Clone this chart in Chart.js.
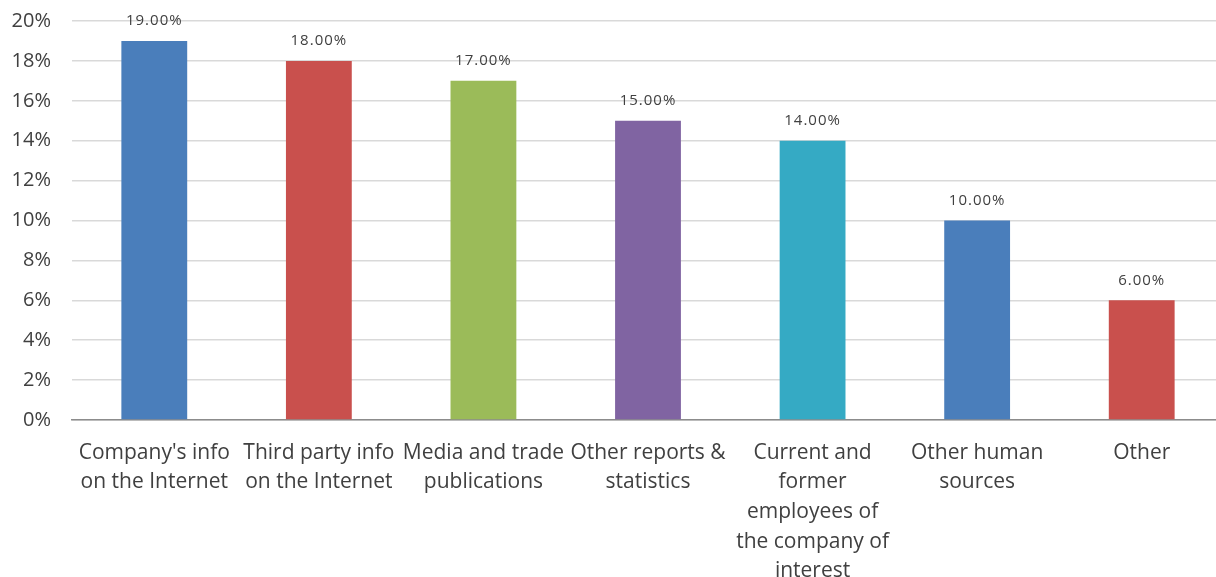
<!DOCTYPE html>
<html>
<head>
<meta charset="utf-8">
<script src="https://cdn.jsdelivr.net/npm/chart.js@4.4.1/dist/chart.umd.min.js"></script>
<style>
  html, body { margin: 0; padding: 0; background: #ffffff; overflow: hidden; }
  #wrap { position: relative; top: -12px; width: 1224px; height: 589px; }
</style>
</head>
<body>
<div id="wrap"><canvas id="chart"></canvas></div>
<script>
// Sources of information, share of respondents (%)
const categories = [
  ["Company's info", "on the Internet"],
  ["Third party info", "on the Internet"],
  ["Media and trade", "publications"],
  ["Other reports &", "statistics"],
  ["Current and", "former", "employees of", "the company of", "interest"],
  ["Other human", "sources"],
  ["Other"]
];
const shares = [19, 18, 17, 15, 14, 10, 6];
const barColors = ["#4A7EBB", "#C9504D", "#9BBB59", "#8064A2", "#35AAC4", "#4A7EBB", "#C9504D"];
const yTicks = [0, 2, 4, 6, 8, 10, 12, 14, 16, 18, 20];

const FONT = "'Open Sans', 'DejaVu Sans', sans-serif";
const TEXT = "#404040";

// Value labels drawn above each bar
const valueLabels = {
  id: 'valueLabels',
  afterDatasetsDraw(chart) {
    const ctx = chart.ctx;
    const meta = chart.getDatasetMeta(0);
    ctx.save();
    ctx.font = "15px " + FONT;
    ctx.letterSpacing = "1px";
    ctx.fillStyle = TEXT;
    ctx.textAlign = 'center';
    ctx.textBaseline = 'middle';
    meta.data.forEach((bar, i) => {
      ctx.fillText(shares[i].toFixed(2) + '%', bar.x, bar.y - 20);
    });
    ctx.restore();
  }
};

new Chart(document.getElementById('chart'), {
  type: 'bar',
  data: {
    labels: categories,
    datasets: [{
      data: shares,
      backgroundColor: barColors,
      borderWidth: 0,
      categoryPercentage: 1.0,
      barPercentage: 0.4
    }]
  },
  options: {
    responsive: true,
    maintainAspectRatio: false,
    animation: false,
    layout: { padding: { top: 1, right: 0, left: 0, bottom: 0 } },
    plugins: {
      legend: { display: false },
      tooltip: { enabled: false }
    },
    scales: {
      x: {
        grid: { display: false, drawTicks: false },
        border: { display: true, color: '#8C8C8C', width: 1.5 },
        ticks: {
          color: TEXT,
          font: { family: FONT, size: 21, lineHeight: 1.41 },
          padding: 18,
          maxRotation: 0,
          autoSkip: false
        },
        afterFit(scale) { scale.height = 157; }
      },
      y: {
        min: 0,
        max: 20,
        afterBuildTicks(scale) { scale.ticks = yTicks.map(v => ({ value: v })); },
        grid: { color: '#D9D9D9', lineWidth: 1.5, drawTicks: false },
        border: { display: false },
        ticks: {
          color: TEXT,
          font: { family: FONT, size: 20 },
          padding: 21,
          callback: v => v + '%'
        },
        afterFit(scale) { scale.width = 72; }
      }
    }
  },
  plugins: [valueLabels]
});
</script>
</body>
</html>
